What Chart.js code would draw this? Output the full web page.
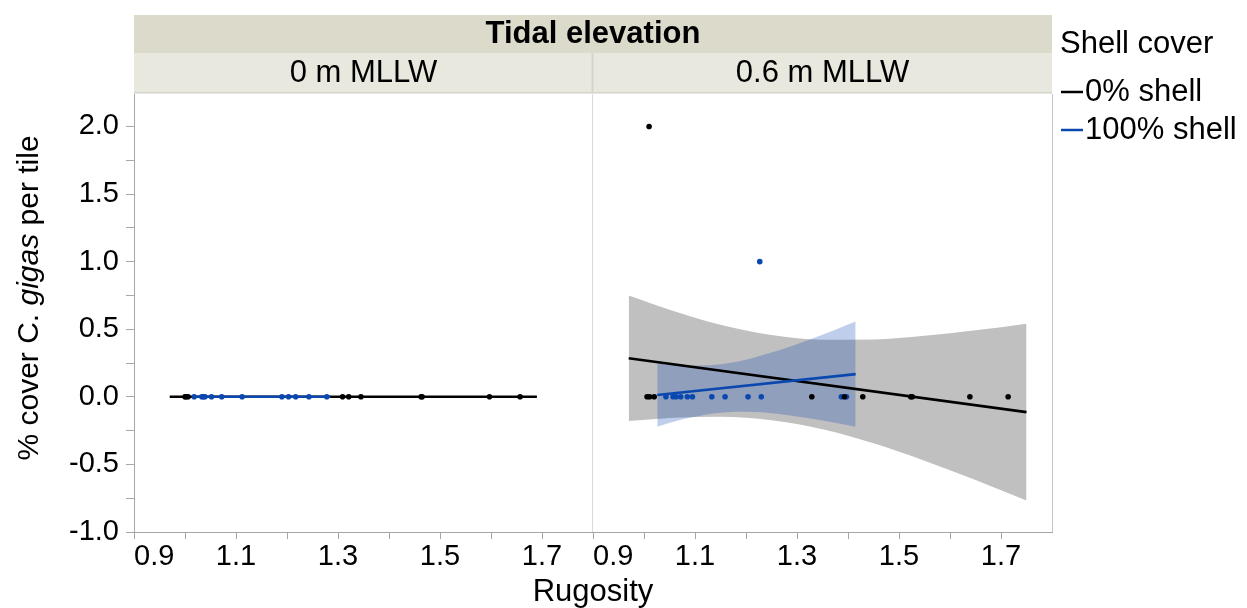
<!DOCTYPE html>
<html>
<head>
<meta charset="utf-8">
<script src="https://cdn.jsdelivr.net/npm/chart.js@4.4.1/dist/chart.umd.min.js"></script>
<style>
  html, body { margin: 0; padding: 0; background: #fff; }
  #wrap { width: 1247px; height: 608px; position: relative; }
</style>
</head>
<body>
<div id="wrap"><canvas id="chart" width="1247" height="608"></canvas></div>
<script>
// Facets and groups
const facetTitle = 'Tidal elevation';
const panels = ['0 m MLLW', '0.6 m MLLW'];
const legendTitle = 'Shell cover';
const groups = ['0% shell', '100% shell'];
const groupColors = ['#000000', '#0a48b0'];

// Axis ticks
const xTicks = [0.9, 1.0, 1.1, 1.2, 1.3, 1.4, 1.5, 1.6, 1.7, 1.8];
const xTickLabels = ['0.9', '', '1.1', '', '1.3', '', '1.5', '', '1.7', ''];
const yTicks = [-1.0, -0.75, -0.5, -0.25, 0, 0.25, 0.5, 0.75, 1.0, 1.25, 1.5, 1.75, 2.0];
const yTickLabels = ['-1.0', '', '-0.5', '', '0.0', '', '0.5', '', '1.0', '', '1.5', '', '2.0'];
const xTitle = 'Rugosity';

// Panel 1: 0 m MLLW
const low0X = [1.000, 1.002, 1.006, 1.309, 1.321, 1.345, 1.463, 1.465, 1.597, 1.657];
const low0Y = [0, 0, 0, 0, 0, 0, 0, 0, 0, 0];
const low100X = [1.018, 1.033, 1.036, 1.039, 1.052, 1.072, 1.112, 1.190, 1.203, 1.217, 1.243, 1.278];
const low100Y = [0, 0, 0, 0, 0, 0, 0, 0, 0, 0, 0, 0];
const lowFit0X = [0.970, 1.690];
const lowFit0Y = [0, 0];
const lowFit100X = [1.018, 1.285];
const lowFit100Y = [0, 0];

// Panel 2: 0.6 m MLLW
const high0X = [1.006, 1.010, 1.011, 1.020, 1.329, 1.393, 1.429, 1.523, 1.526, 1.639, 1.714];
const high0Y = [0, 2.0, 0, 0, 0, 0, 0, 0, 0, 0, 0];
const high100X = [1.043, 1.057, 1.063, 1.072, 1.085, 1.095, 1.133, 1.159, 1.204, 1.227, 1.230, 1.387, 1.397];
const high100Y = [0, 0, 0, 0, 0, 0, 0, 0, 0, 1.0, 0, 0, 0];
const highFit0X = [0.970, 1.750];
const highFit0Y = [0.285, -0.113];
const highFit100X = [1.026, 1.415];
const highFit100Y = [0.013, 0.168];

// confidence bands
const band0X = [0.970, 1.050, 1.150, 1.250, 1.350, 1.450, 1.550, 1.650, 1.750];
const band0Up = [0.749, 0.644, 0.533, 0.457, 0.422, 0.424, 0.451, 0.492, 0.541];
const band0Lo = [-0.179, -0.156, -0.147, -0.173, -0.240, -0.344, -0.473, -0.616, -0.767];
const band100X = [1.026, 1.080, 1.140, 1.200, 1.260, 1.320, 1.380, 1.415];
const band100Up = [0.247, 0.231, 0.237, 0.275, 0.338, 0.417, 0.504, 0.557];
const band100Lo = [-0.221, -0.163, -0.121, -0.111, -0.126, -0.157, -0.196, -0.221];

const FONT = '"Liberation Sans", Arial, sans-serif';

function pts(xs, ys) {
  return xs.map((x, i) => ({ x: x, y: ys[i] }));
}

function pointSet(xs, ys, color, axis) {
  return {
    type: 'scatter', data: pts(xs, ys), xAxisID: axis, yAxisID: 'y',
    pointRadius: 2.8, pointBorderWidth: 0, backgroundColor: color, borderColor: color,
    order: 1
  };
}

function lineSet(xs, ys, color, axis) {
  return {
    type: 'line', data: pts(xs, ys), xAxisID: axis, yAxisID: 'y',
    borderColor: color, borderWidth: 2.6, pointRadius: 0, fill: false,
    order: 3
  };
}

function bandSets(xs, up, lo, color, axis, order) {
  return [{
    type: 'line', data: pts(xs, up), xAxisID: axis, yAxisID: 'y',
    borderWidth: 0, pointRadius: 0, fill: '+1', backgroundColor: color,
    cubicInterpolationMode: 'monotone', order: order
  }, {
    type: 'line', data: pts(xs, lo), xAxisID: axis, yAxisID: 'y',
    borderWidth: 0, pointRadius: 0, fill: false,
    cubicInterpolationMode: 'monotone', order: order
  }];
}

function xScale() {
  return {
    type: 'linear', position: 'bottom', stack: 'rug', stackWeight: 1,
    min: 0.9, max: 1.8,
    afterBuildTicks: s => { s.ticks = xTicks.map(v => ({ value: v })); },
    afterFit: s => { s.height = 76; },
    ticks: {
      autoSkip: false, maxRotation: 0, align: 'inner', padding: 1,
      color: '#000', font: { family: FONT, size: 29 },
      callback: (v, i) => xTickLabels[i]
    },
    grid: {
      drawOnChartArea: false, drawTicks: true, tickLength: 7, tickWidth: 1,
      tickColor: ctx => (ctx.tick && ctx.tick.value > 1.75) ? 'rgba(0,0,0,0)' : '#a6a6a6'
    },
    border: { display: true, color: '#a6a6a6', width: 1 }
  };
}

// headers, titles, legend and panel borders
const decor = {
  id: 'decor',
  beforeDatasetsDraw(chart) {
    const c = chart.ctx, a = chart.chartArea, x2 = chart.scales.x2;
    c.save();
    c.strokeStyle = '#dadada';
    c.lineWidth = 1;
    c.beginPath();
    c.moveTo(x2.left - 0.5, a.top); c.lineTo(x2.left - 0.5, a.bottom);
    c.stroke();
    c.strokeStyle = '#c4c4c4';
    c.beginPath();
    c.moveTo(a.right + 0.5, a.top); c.lineTo(a.right + 0.5, a.bottom);
    c.stroke();
    c.restore();
  },
  afterDraw(chart) {
    const c = chart.ctx, a = chart.chartArea;
    const x1 = chart.scales.x1, x2 = chart.scales.x2;
    c.save();
    // facet strips
    c.fillStyle = '#dbdacb';
    c.fillRect(a.left, 15, a.right - a.left, 38);
    c.fillStyle = '#e8e8df';
    c.fillRect(a.left, 53, a.right - a.left, 40);
    c.fillStyle = '#d4d4ca';
    c.fillRect(a.left, 92, a.right - a.left, 1.5);
    c.fillRect(x2.left - 1.5, 53, 2, 40);
    c.fillStyle = '#000';
    c.textAlign = 'center';
    c.textBaseline = 'middle';
    c.font = 'bold 31px ' + FONT;
    c.fillText(facetTitle, (a.left + a.right) / 2, 34);
    c.font = '31px ' + FONT;
    c.fillText(panels[0], (x1.left + x1.right) / 2, 73);
    c.fillText(panels[1], (x2.left + x2.right) / 2, 73);

    // x title
    c.font = '31px ' + FONT;
    c.fillText(xTitle, (a.left + a.right) / 2, 592);

    // y title with italic species name
    const parts = [['% cover C. ', ''], ['gigas', 'italic '], [' per tile', '']];
    c.save();
    c.translate(38, 298);
    c.rotate(-Math.PI / 2);
    c.textAlign = 'left';
    c.textBaseline = 'alphabetic';
    let total = 0;
    parts.forEach(p => { c.font = p[1] + '30px ' + FONT; total += c.measureText(p[0]).width; });
    let px = -total / 2;
    parts.forEach(p => {
      c.font = p[1] + '30px ' + FONT;
      c.fillText(p[0], px, 0);
      px += c.measureText(p[0]).width;
    });
    c.restore();

    // legend
    c.textAlign = 'left';
    c.textBaseline = 'middle';
    c.font = '31px ' + FONT;
    c.fillText(legendTitle, 1060, 44);
    groups.forEach((g, i) => {
      const y = 92 + i * 38;
      c.strokeStyle = groupColors[i];
      c.lineWidth = 2.5;
      c.beginPath();
      c.moveTo(1061, y); c.lineTo(1083, y);
      c.stroke();
      c.fillStyle = '#000';
      c.fillText(g, 1085, y);
    });
    c.restore();
  }
};

const datasets = [
  ...bandSets(band0X, band0Up, band0Lo, '#c0c0c0', 'x2', 9),
  lineSet(highFit0X, highFit0Y, groupColors[0], 'x2'),
  ...bandSets(band100X, band100Up, band100Lo, 'rgba(0,62,176,0.25)', 'x2', 5),
  lineSet(highFit100X, highFit100Y, groupColors[1], 'x2'),
  lineSet(lowFit0X, lowFit0Y, groupColors[0], 'x1'),
  lineSet(lowFit100X, lowFit100Y, groupColors[1], 'x1'),
  pointSet(low0X, low0Y, groupColors[0], 'x1'),
  pointSet(low100X, low100Y, groupColors[1], 'x1'),
  pointSet(high0X, high0Y, groupColors[0], 'x2'),
  pointSet(high100X, high100Y, groupColors[1], 'x2')
];
// keep blue fit lines above the black ones
datasets[2].order = 4;
datasets[5].order = 2;
datasets[7].order = 2;

new Chart(document.getElementById('chart'), {
  type: 'scatter',
  data: { datasets: datasets },
  options: {
    responsive: false,
    animation: false,
    devicePixelRatio: 1,
    layout: { padding: { top: 94, right: 195, left: 0, bottom: 0 } },
    plugins: { legend: { display: false }, tooltip: { enabled: false } },
    scales: {
      x1: xScale(),
      x2: xScale(),
      y: {
        type: 'linear', position: 'left', min: -1.0, max: 2.24,
        afterBuildTicks: s => { s.ticks = yTicks.map(v => ({ value: v })); },
        afterFit: s => { s.width = 134; },
        ticks: {
          autoSkip: false, padding: 7, color: '#000',
          font: { family: FONT, size: 29 },
          callback: (v, i) => yTickLabels[i]
        },
        grid: { drawOnChartArea: false, drawTicks: true, tickLength: 8, tickColor: '#a6a6a6' },
        border: { display: true, color: '#a6a6a6', width: 1 }
      }
    }
  },
  plugins: [decor]
});
</script>
</body>
</html>
